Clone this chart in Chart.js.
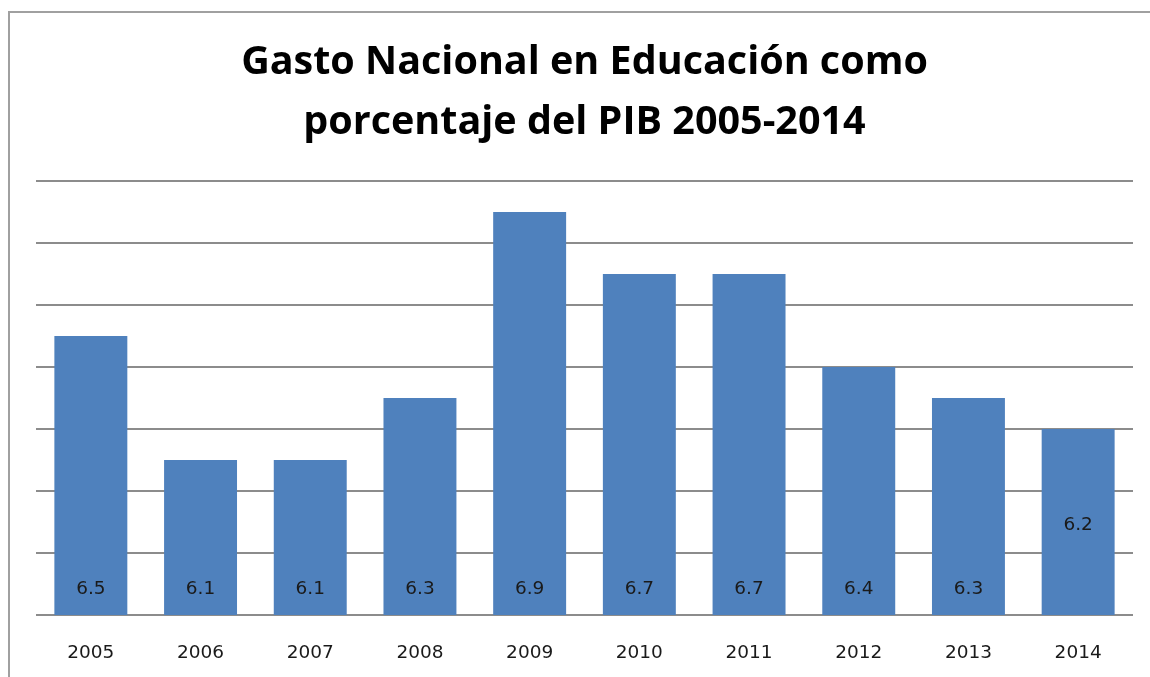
<!DOCTYPE html>
<html>
<head>
<meta charset="utf-8">
<script src="https://cdn.jsdelivr.net/npm/chart.js@4/dist/chart.umd.min.js"></script>
<style>
  html, body { margin: 0; padding: 0; background: #ffffff; }
  #wrap { position: relative; width: 1150px; height: 677px; }
</style>
</head>
<body>
<div id="wrap"><canvas id="c" width="1150" height="677"></canvas></div>
<script>
const categories = ["2005","2006","2007","2008","2009","2010","2011","2012","2013","2014"];
const values = [6.5, 6.1, 6.1, 6.3, 6.9, 6.7, 6.7, 6.4, 6.3, 6.2];
const titleLines = ["Gasto Nacional en Educación como", "porcentaje del PIB 2005-2014"];

const framePlugin = {
  id: 'frame',
  beforeDraw(chart) {
    const ctx = chart.ctx;
    ctx.save();
    ctx.fillStyle = '#ffffff';
    ctx.fillRect(0, 0, chart.width, chart.height);
    ctx.strokeStyle = '#a0a0a0';
    ctx.lineWidth = 2;
    ctx.beginPath();
    ctx.moveTo(9, chart.height);
    ctx.lineTo(9, 12);
    ctx.lineTo(chart.width, 12);
    ctx.stroke();
    ctx.restore();
  }
};

const barLabelPlugin = {
  id: 'barLabels',
  afterDatasetsDraw(chart, args, opts) {
    const ctx = chart.ctx;
    const meta = chart.getDatasetMeta(0);
    const yScale = chart.scales.y;
    ctx.save();
    ctx.font = '18.5px "DejaVu Sans", sans-serif';
    ctx.fillStyle = '#1a1a1a';
    ctx.textAlign = 'center';
    ctx.textBaseline = 'middle';
    meta.data.forEach((bar, i) => {
      const v = values[i];
      const lift = (opts.lifts && opts.lifts[i] != null) ? opts.lifts[i] : 26;
      ctx.fillText(v.toFixed(1), bar.x, yScale.bottom - lift);
    });
    ctx.restore();
  }
};

new Chart(document.getElementById('c'), {
  type: 'bar',
  data: {
    labels: categories,
    datasets: [{
      data: values,
      backgroundColor: '#4F81BD',
      borderWidth: 0,
      barPercentage: 0.665,
      categoryPercentage: 1.0
    }]
  },
  options: {
    responsive: false,
    animation: false,
    layout: { padding: { left: 36, right: 17, top: 0, bottom: 0 } },
    plugins: {
      legend: { display: false },
      tooltip: { enabled: false },
      title: {
        display: true,
        text: titleLines,
        color: '#000000',
        font: { family: '"Open Sans", Lato, sans-serif', size: 39.5, weight: 'bold', lineHeight: 60 / 39.5 },
        padding: { top: 33, bottom: 28 }
      },
      barLabels: { lifts: [26, 26, 26, 26, 26, 26, 26, 26, 26, 90] }
    },
    scales: {
      x: {
        grid: { display: false, drawTicks: false },
        border: { display: false },
        ticks: {
          color: '#1a1a1a',
          font: { family: '"DejaVu Sans", sans-serif', size: 18.5 },
          padding: 27
        },
        afterFit(scale) { scale.height = 62; }
      },
      y: {
        min: 5.6,
        max: 7.0,
        ticks: { stepSize: 0.2, display: false },
        grid: { color: '#8c8c8c', lineWidth: 2, drawTicks: false },
        border: { display: false },
        afterFit(scale) { scale.width = 0; }
      }
    }
  },
  plugins: [framePlugin, barLabelPlugin]
});
</script>
</body>
</html>
